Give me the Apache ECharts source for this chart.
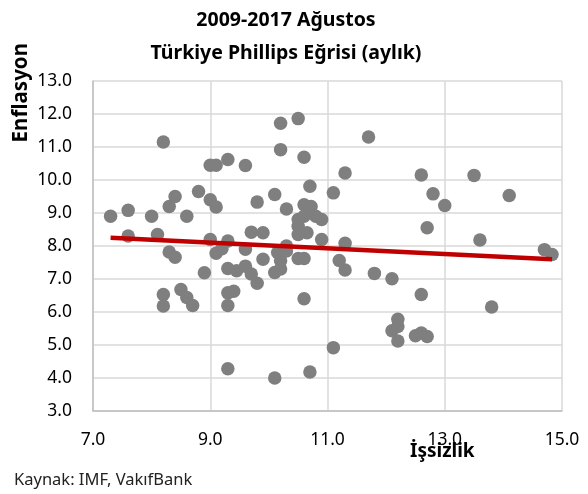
<!doctype html>
<html lang="tr">
<head>
    <meta charset="UTF-8">
    <title>Phillips Eğrisi</title>
    <style>
        * { margin: 0; padding: 0; }
        body { background: #fff; }
        #main { width: 588px; height: 494px; }
    </style>
</head>
<body>
<div id="main"></div>
<script src="https://cdn.jsdelivr.net/npm/echarts@6/dist/echarts.min.js"></script>
<script>
    // işsizlik (x) ve enflasyon (y), aylık
    var issizlik = [7.3, 7.6, 7.6, 8.0, 8.1, 8.2, 8.3, 8.4, 8.6, 8.8,
        9.0, 9.1, 9.0, 9.1, 9.3, 9.6, 9.8, 9.0, 9.3, 9.7,
        9.9, 8.3, 8.4, 8.9, 8.2, 8.2, 8.5, 8.6, 8.7, 9.1,
        9.2, 9.3, 9.45, 9.6, 9.6, 9.7, 9.8, 9.3, 9.4, 9.3,
        9.3, 10.1, 10.7, 11.1, 10.2, 10.5, 10.2, 10.6, 11.7, 11.3,
        12.6, 13.5, 12.8, 13.0, 14.1, 12.7, 13.6, 14.7, 14.83, 12.6,
        13.8, 12.6, 12.7, 12.5, 12.1, 12.2, 12.2, 12.2, 12.1, 11.8,
        11.3, 11.2, 11.3, 10.9, 10.7, 11.1, 10.1, 10.3, 10.6, 10.72,
        10.5, 10.9, 10.8, 10.6, 10.5, 10.65, 10.5, 10.3, 10.15, 10.1,
        10.2, 10.2, 10.5, 10.6, 10.6, 9.9, 10.3];
    var enflasyon = [8.9, 9.08, 8.3, 8.9, 8.35, 11.15, 9.2, 9.5, 8.9, 9.65,
        10.45, 10.45, 9.4, 9.18, 10.62, 10.44, 9.33, 8.2, 8.15, 8.42,
        8.4, 7.82, 7.66, 7.19, 6.53, 6.18, 6.68, 6.44, 6.2, 7.78,
        7.92, 7.32, 7.25, 7.9, 7.39, 7.15, 6.87, 6.58, 6.63, 6.2,
        4.28, 4.0, 4.18, 4.92, 11.72, 11.86, 10.92, 10.69, 11.3, 10.21,
        10.15, 10.14, 9.58, 9.23, 9.53, 8.55, 8.18, 7.89, 7.74, 6.53,
        6.15, 5.36, 5.26, 5.28, 5.43, 5.78, 5.56, 5.12, 7.01, 7.17,
        7.27, 7.56, 8.08, 8.2, 9.81, 9.61, 9.56, 9.12, 9.25, 9.2,
        8.8, 8.8, 8.9, 8.9, 8.6, 8.4, 8.35, 8.0, 7.8, 7.2,
        7.3, 7.55, 7.62, 7.62, 6.4, 7.6, 7.85];
    // doğrusal eğilim çizgisi uçları
    var trendX = [7.3, 14.83];
    var trendY = [8.25, 7.6];

    var xTicks = [7, 15, 2];
    var yTicks = [3, 13, 1];

    var points = issizlik.map(function (v, i) { return [v, enflasyon[i]]; });
    var trend = trendX.map(function (v, i) { return [v, trendY[i]]; });

    var font = 'Noto Sans';
    var myChart = echarts.init(document.getElementById('main'));
    var option = {
        animation: false,
        title: {
            text: '2009-2017 Ağustos\nTürkiye Phillips Eğrisi (aylık)',
            left: 281,
            top: -1,
            textAlign: 'center',
            textStyle: { fontFamily: font, fontSize: 19.5, fontWeight: 'bold', color: '#000', lineHeight: 33 }
        },
        graphic: [
            {
                type: 'text', left: 11, top: 43, rotation: Math.PI / 2,
                style: { text: 'Enflasyon', font: 'bold 20.5px "Noto Sans"', fill: '#000' }
            },
            {
                type: 'text', left: 410, top: 442,
                style: { text: 'İşsizlik', font: 'bold 19px "Noto Sans"', fill: '#000' }
            },
            {
                type: 'text', left: 14, top: 472,
                style: { text: 'Kaynak: IMF, VakıfBank', font: '16.5px "Noto Sans"', fill: '#222' }
            }
        ],
        grid: { left: 93, right: 26, top: 81, bottom: 83 },
        xAxis: {
            type: 'value', min: xTicks[0], max: xTicks[1], interval: xTicks[2],
            axisLine: { lineStyle: { color: '#bfbfbf', width: 1.5 } },
            axisTick: { show: false },
            axisLabel: { formatter: function (v) { return v.toFixed(1); }, color: '#000', fontFamily: font, fontSize: 17.5, margin: 20 },
            splitLine: { lineStyle: { color: '#d9d9d9', width: 1.5 } }
        },
        yAxis: {
            type: 'value', min: yTicks[0], max: yTicks[1], interval: yTicks[2],
            axisLine: { show: true, lineStyle: { color: '#bfbfbf', width: 1.5 } },
            axisTick: { show: false },
            axisLabel: { formatter: function (v) { return v.toFixed(1); }, color: '#000', fontFamily: font, fontSize: 17.5, margin: 21 },
            splitLine: { lineStyle: { color: '#d9d9d9', width: 1.5 } }
        },
        series: [
            {
                type: 'scatter', data: points, symbolSize: 13.5,
                itemStyle: { color: '#7f7f7f', opacity: 1 }
            },
            {
                type: 'line', data: trend, showSymbol: false, z: 5,
                lineStyle: { color: '#c00000', width: 4.5 }
            }
        ]
    };
    myChart.setOption(option);
</script>
</body>
</html>
